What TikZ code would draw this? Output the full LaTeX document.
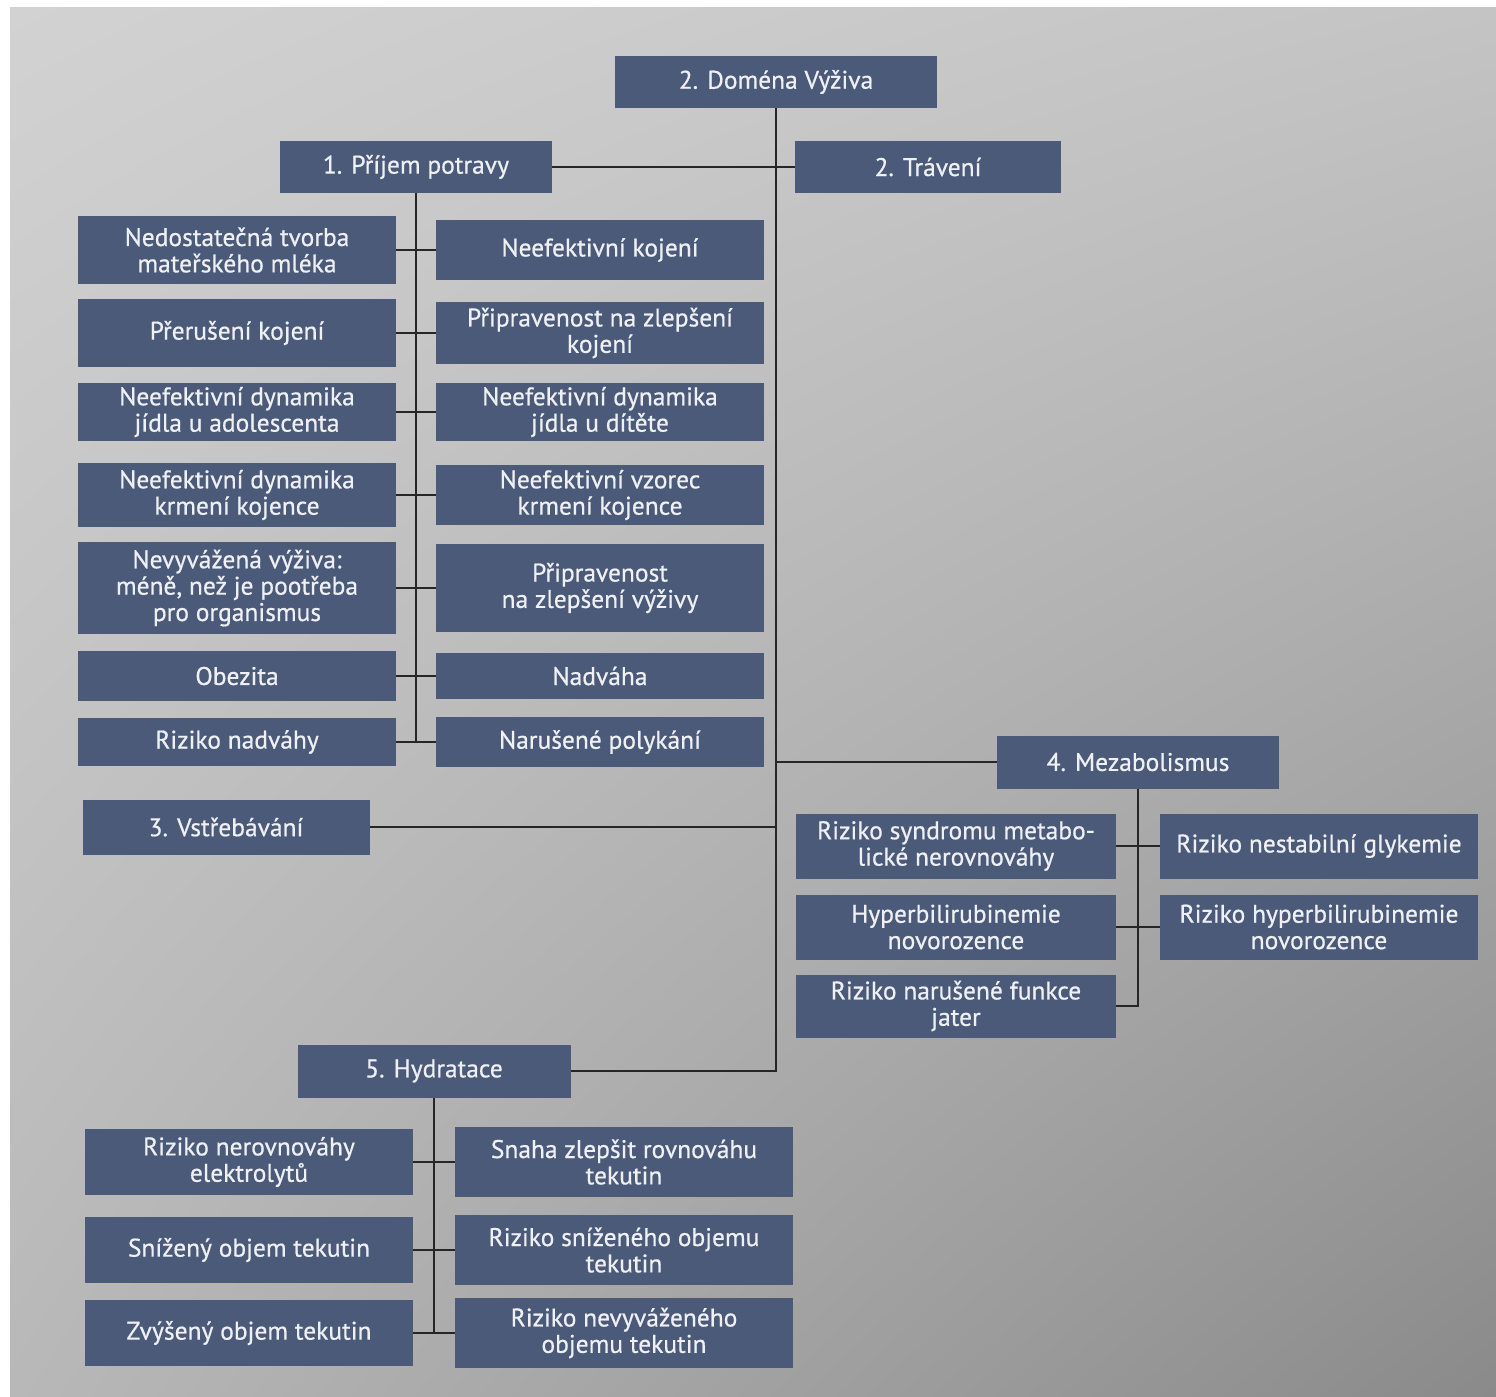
\documentclass[tikz,border=0pt]{standalone}
\usepackage{fontspec}
\usetikzlibrary{shadings}
\setmainfont[FakeBold=0.6]{PT Sans}
\definecolor{boxblue}{RGB}{76,90,122}
\definecolor{boxtext}{RGB}{238,240,244}
\definecolor{linegray}{RGB}{38,38,40}
\definecolor{pageul}{RGB}{210,210,210}
\definecolor{pageur}{RGB}{196,196,196}
\definecolor{pagell}{RGB}{184,184,184}
\definecolor{pagelr}{RGB}{138,138,138}
\begin{document}
\begin{tikzpicture}[
  x=0.02cm, y=-0.02cm,
  block/.style={rectangle, fill=boxblue, text=boxtext, align=center, inner sep=2pt, font=\fontsize{14.5}{15}\selectfont},
  wd/.style={minimum width=#1*0.02cm},
  ht/.style={minimum height=#1*0.02cm},
  link/.style={draw=linegray, line width=1pt}
]
\useasboundingbox (0,0) rectangle (1496,1396);
\fill[white] (0,0) rectangle (1496,1396);
\shade[upper left=pageul, upper right=pageur, lower left=pagell, lower right=pagelr]
  (10,7) rectangle (1496,1396);

\node[block, wd=322, ht=52] (domena) at (776,82) {2. Doména Výživa};
\node[block, wd=272, ht=52] (prijem) at (416,167) {1. Příjem potravy};
\node[block, wd=266, ht=52] (traveni) at (928,167) {2. Trávení};

\node[block, wd=318, ht=68] (pl1) at (237,250) {Nedostatečná tvorba\\mateřského mléka};
\node[block, wd=328, ht=60] (pr1) at (600,250) {Neefektivní kojení};
\node[block, wd=318, ht=68] (pl2) at (237,333) {Přerušení kojení};
\node[block, wd=328, ht=62] (pr2) at (600,333) {Připravenost na zlepšení\\kojení};
\node[block, wd=318, ht=58] (pl3) at (237,412) {Neefektivní dynamika\\jídla u adolescenta};
\node[block, wd=328, ht=58] (pr3) at (600,412) {Neefektivní dynamika\\jídla u dítěte};
\node[block, wd=318, ht=64] (pl4) at (237,495) {Neefektivní dynamika\\krmení kojence};
\node[block, wd=328, ht=60] (pr4) at (600,495) {Neefektivní vzorec\\krmení kojence};
\node[block, wd=318, ht=92] (pl5) at (237,588) {Nevyvážená výživa:\\méně, než je pootřeba\\pro organismus};
\node[block, wd=328, ht=88] (pr5) at (600,588) {Připravenost\\na zlepšení výživy};
\node[block, wd=318, ht=50] (pl6) at (237,676) {Obezita};
\node[block, wd=328, ht=46] (pr6) at (600,676) {Nadváha};
\node[block, wd=318, ht=48] (pl7) at (237,742) {Riziko nadváhy};
\node[block, wd=328, ht=50] (pr7) at (600,742) {Narušené polykání};

\node[block, wd=287, ht=55] (vstrebavani) at (226,827) {3. Vstřebávání};

\node[block, wd=282, ht=53] (mezab) at (1138,762) {4. Mezabolismus};
\node[block, wd=320, ht=65] (ml1) at (956,846) {Riziko syndromu metabo-\\lické nerovnováhy};
\node[block, wd=318, ht=65] (mr1) at (1319,846) {Riziko nestabilní glykemie};
\node[block, wd=320, ht=65] (ml2) at (956,927) {Hyperbilirubinemie\\novorozence};
\node[block, wd=318, ht=65] (mr2) at (1319,927) {Riziko hyperbilirubinemie\\novorozence};
\node[block, wd=320, ht=63] (ml3) at (956,1006) {Riziko narušené funkce\\jater};

\node[block, wd=273, ht=53] (hydratace) at (434,1071) {5. Hydratace};
\node[block, wd=328, ht=66] (hl1) at (249,1162) {Riziko nerovnováhy\\elektrolytů};
\node[block, wd=338, ht=70] (hr1) at (624,1162) {Snaha zlepšit rovnováhu\\tekutin};
\node[block, wd=328, ht=66] (hl2) at (249,1250) {Snížený objem tekutin};
\node[block, wd=338, ht=70] (hr2) at (624,1250) {Riziko sníženého objemu\\tekutin};
\node[block, wd=328, ht=66] (hl3) at (249,1333) {Zvýšený objem tekutin};
\node[block, wd=338, ht=70] (hr3) at (624,1333) {Riziko nevyváženého\\objemu tekutin};

\draw[link] (domena.south) |- (hydratace.east);
\draw[link] (prijem.east) -- (traveni.west);
\draw[link] (vstrebavani.east) -- (vstrebavani.east -| domena.south);
\draw[link] (domena.south |- mezab.west) -- (mezab.west);

\draw[link] (prijem.south) |- (pl7.east);
\foreach \i in {1,...,7}
  \draw[link] (pl\i.east) -- (pr\i.west);

\draw[link] (mezab.south) |- (ml3.east);
\foreach \i in {1,2}
  \draw[link] (ml\i.east) -- (mr\i.west);

\draw[link] (hydratace.south) |- (hl3.east);
\foreach \i in {1,2,3}
  \draw[link] (hl\i.east) -- (hr\i.west);
\end{tikzpicture}
\end{document}
